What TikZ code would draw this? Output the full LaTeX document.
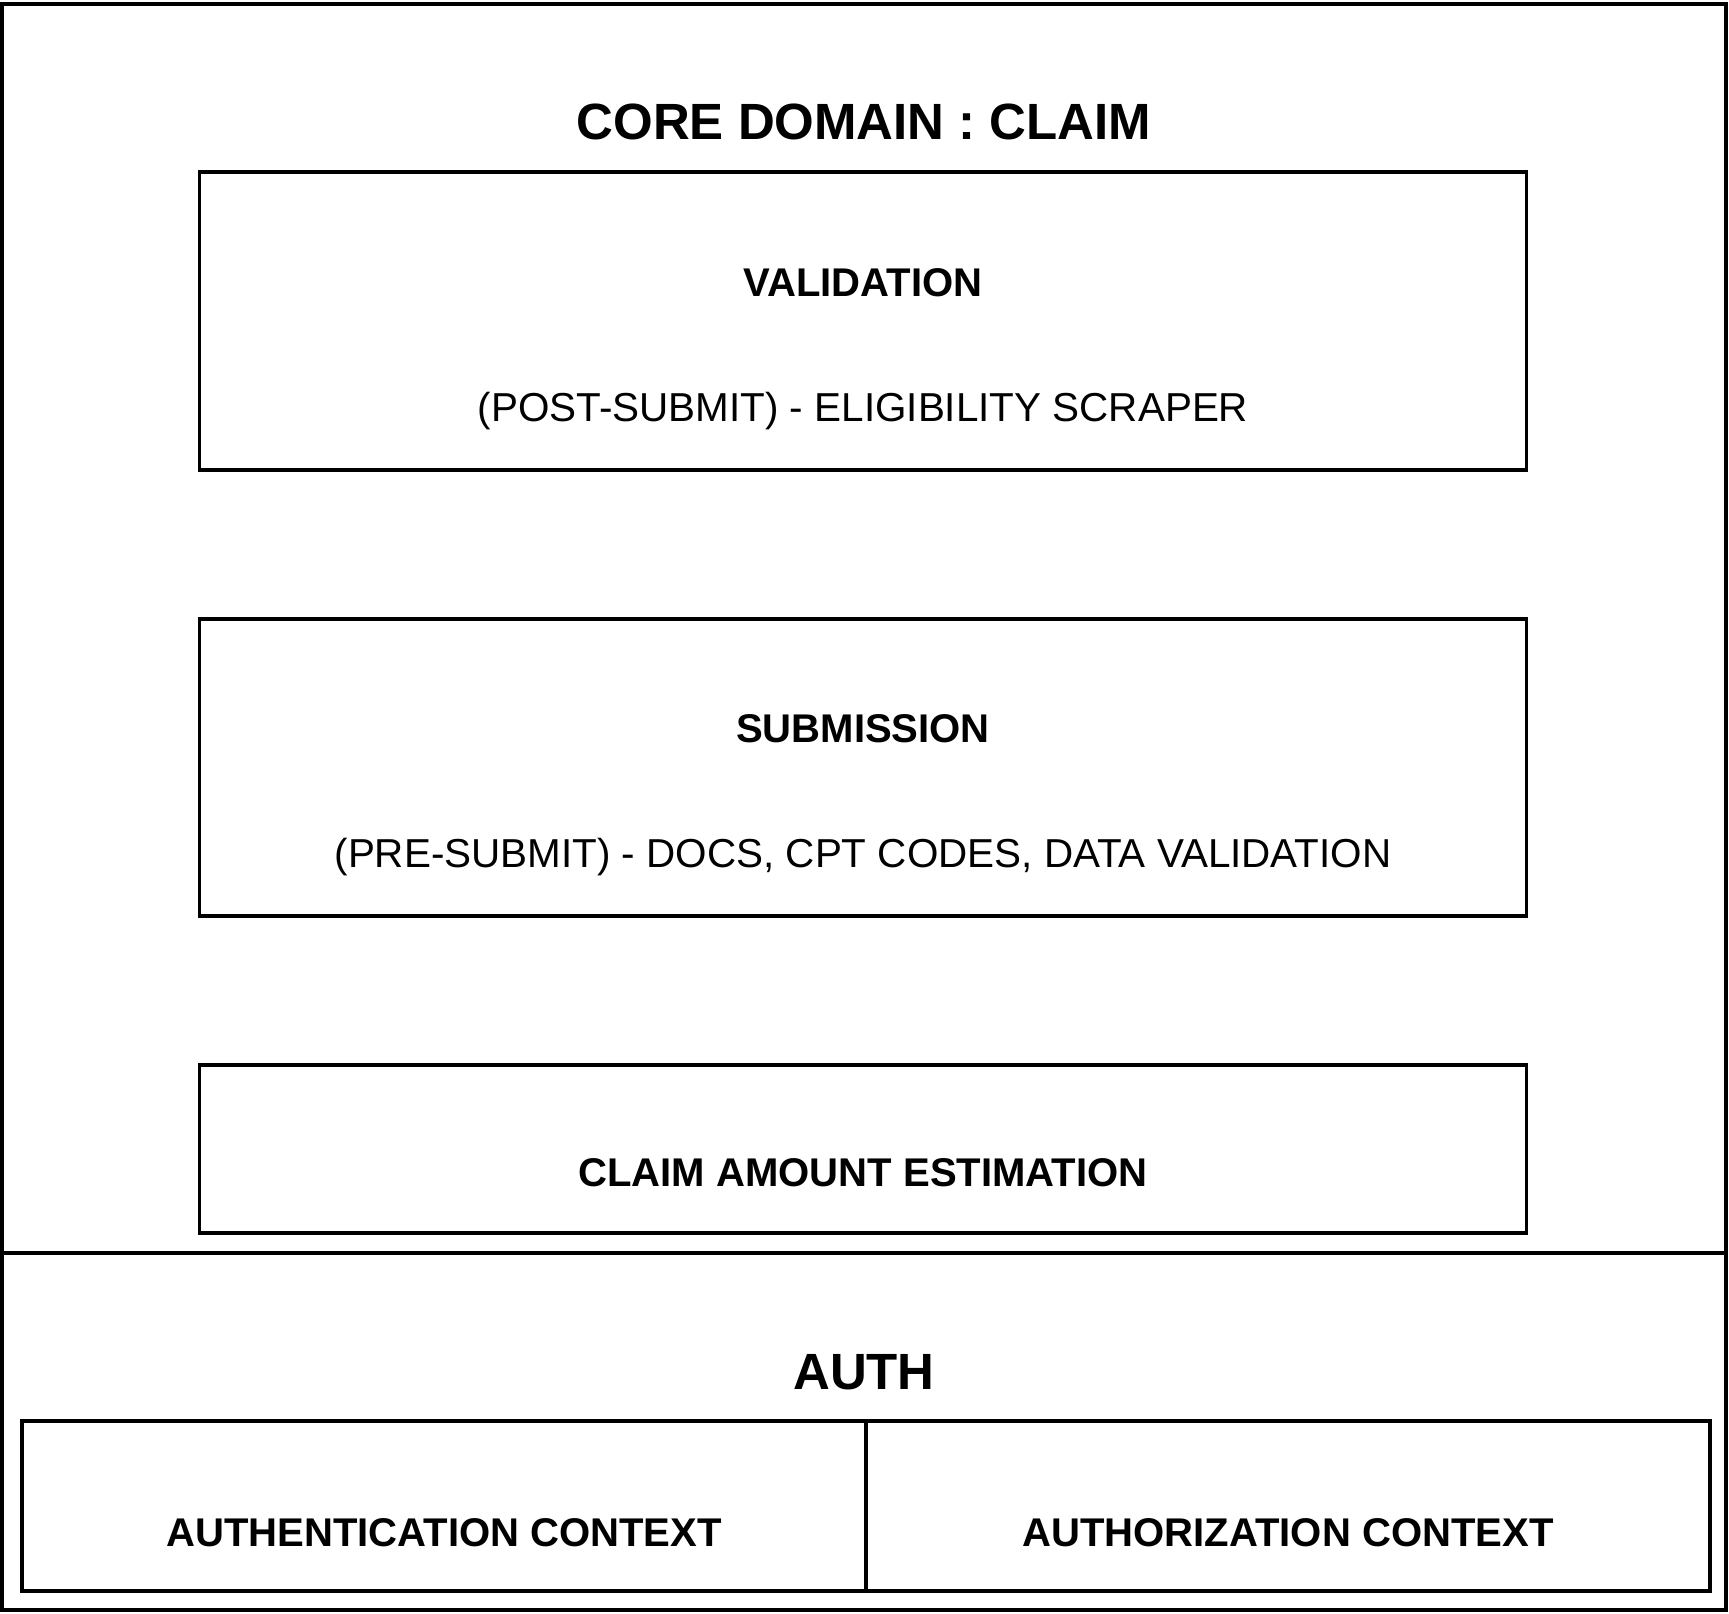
\documentclass[tikz,border=0pt]{standalone}
\usepackage{fontspec}
\setmainfont{Liberation Sans}
\usepackage{tikz}
\usetikzlibrary{positioning}

\begin{document}
\begin{tikzpicture}[
  box/.style={draw, line width=1pt, inner sep=0pt},
  headtext/.style={font=\fontsize{14.5}{17}\selectfont\bfseries},
  parttext/.style={font=\fontsize{11.4}{14}\selectfont\bfseries},
  notetext/.style={font=\fontsize{11.5}{14}\selectfont}
]
\useasboundingbox (0,0) rectangle (17.29,16.13);
%%% core domain %%%

      \node[box, minimum width=17.24cm, minimum height=16.06cm] (frame) at (8.64,8.06) {};
      \node[headtext] (core) at (8.64,14.91) {CORE DOMAIN : CLAIM};
      %%
      \node[box, minimum width=13.27cm, minimum height=2.98cm] (validation) at (8.63,12.92) {};
      \node[parttext] (validationname) at (8.63,13.30) {VALIDATION};
      \node[notetext] (validationnote) at (8.63,12.02) {(POST-SUBMIT) - ELIGIBILITY SCRAPER};
      %%
      \node[box, minimum width=13.27cm, minimum height=2.97cm] (submission) at (8.63,8.455) {};
      \node[parttext] (submissionname) at (8.63,8.84) {SUBMISSION};
      \node[notetext] (submissionnote) at (8.63,7.56) {(PRE-SUBMIT) - DOCS, CPT CODES, DATA VALIDATION};
      %%
      \node[box, minimum width=13.27cm, minimum height=1.68cm] (estimation) at (8.63,4.64) {};
      \node[parttext] (estimationname) at (8.63,4.40) {CLAIM AMOUNT ESTIMATION};

%%% auth %%%
      \coordinate (split) at (0,3.60);
      \draw[line width=1pt] (frame.west |- split) -- (frame.east |- split);
      \node[headtext] (auth) at (8.64,2.41) {AUTH};
      \node[box, minimum width=8.44cm, minimum height=1.70cm] (authentication) at (4.44,1.07) {};
      \node[box, minimum width=8.44cm, minimum height=1.70cm] (authorization) at (12.88,1.07) {};
      \node[parttext] (authenticationname) at (4.44,0.80) {AUTHENTICATION CONTEXT};
      \node[parttext] (authorizationname) at (12.88,0.80) {AUTHORIZATION CONTEXT};

\end{tikzpicture}
\end{document}
